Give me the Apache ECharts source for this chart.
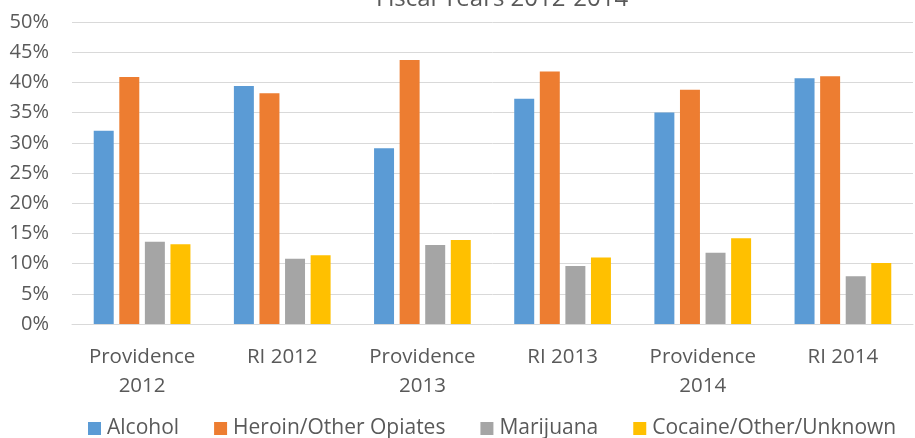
<!DOCTYPE html>
<html><head><meta charset="utf-8">
<script src="https://cdn.jsdelivr.net/npm/echarts@6/dist/echarts.min.js"></script>
<style>html,body{margin:0;padding:0;background:#fff}#c{width:915px;height:438px}</style>
</head><body><div id="c"></div>
<script>
const categories = ["Providence\n2012", "RI 2012", "Providence\n2013", "RI 2013", "Providence\n2014", "RI 2014"];
const alcohol = [32.0, 39.4, 29.1, 37.3, 35.0, 40.7];
const heroin = [40.9, 38.2, 43.7, 41.8, 38.8, 41.0];
const marijuana = [13.6, 10.8, 13.1, 9.6, 11.8, 7.9];
const cocaine = [13.2, 11.4, 13.9, 11.0, 14.2, 10.1];
const seriesNames = ["Alcohol", "Heroin/Other Opiates", "Marijuana", "Cocaine/Other/Unknown"];
const colors = ["#5B9BD5", "#ED7D31", "#A5A5A5", "#FFC000"];
const yTicks = [0, 5, 10, 15, 20, 25, 30, 35, 40, 45, 50];

const FONT = "Open Sans";
const TXT = "#595959";
const chart = echarts.init(document.getElementById('c'));
const dataSets = [alcohol, heroin, marijuana, cocaine];
chart.setOption({
  animation: false,
  title: { text: "Fiscal Years 2012-2014", left: 497, textAlign: 'center', top: -18,
    textStyle: { fontFamily: FONT, fontSize: 24, fontWeight: 'normal', color: TXT } },
  legend: { bottom: -6, left: 83, width: 830, itemWidth: 13, itemHeight: 13, itemGap: 35,
    icon: 'rect',
    textStyle: { fontFamily: FONT, fontSize: 21, color: TXT, padding: [0,0,0,1] },
    data: seriesNames },
  grid: { left: 72, right: 2, top: 22, bottom: 114, containLabel: false },
  xAxis: { type: 'category', data: categories,
    axisLine: { lineStyle: { color: '#D9D9D9', width: 1 } },
    axisTick: { show: false },
    axisLabel: { fontFamily: FONT, fontSize: 20.5, color: TXT, margin: 19, lineHeight: 29 } },
  yAxis: { type: 'value', min: 0, max: 50, interval: 5,
    axisLine: { show: false }, axisTick: { show: false },
    splitLine: { lineStyle: { color: '#D9D9D9', width: 1 } },
    axisLabel: { fontFamily: FONT, fontSize: 20, color: TXT, margin: 23,
      formatter: v => v + '%' } },
  series: seriesNames.map((n, i) => ({
    name: n, type: 'bar', data: dataSets[i],
    barGap: '28%', barCategoryGap: '31%',
    itemStyle: { color: colors[i] }
  }))
});
</script></body></html>
